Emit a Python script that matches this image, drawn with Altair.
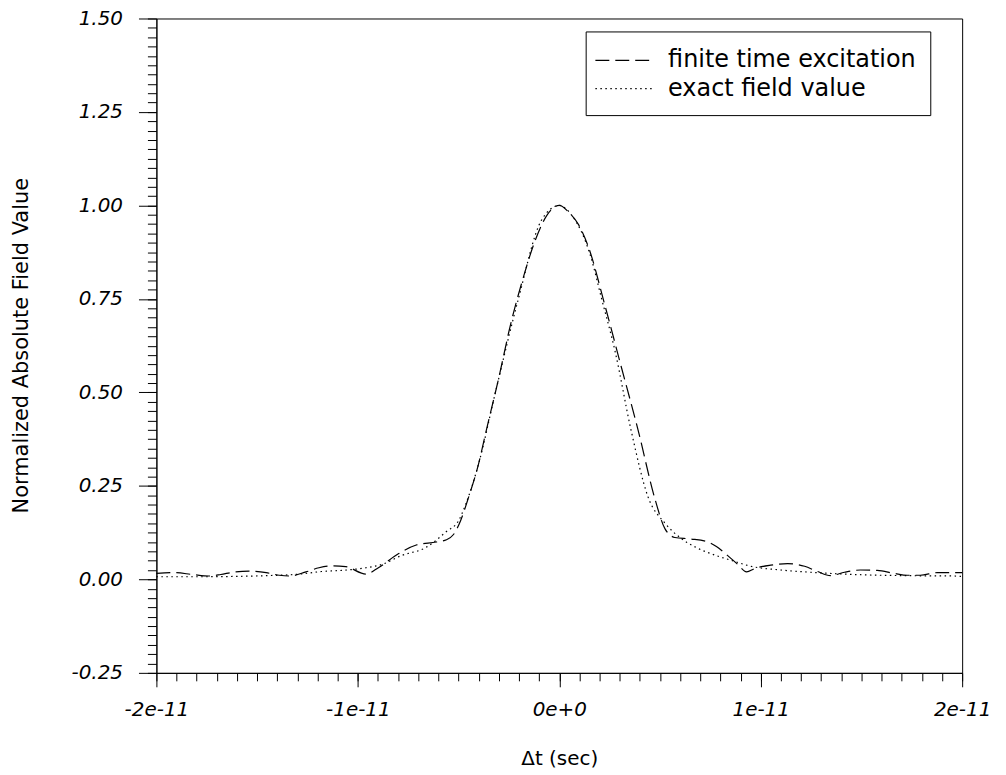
import altair as alt
import pandas as pd

# time offsets in picoseconds (converted to seconds below)
finite_t = [-20.0, -19.1, -18.2, -17.4, -16.8, -16.2, -15.4, -14.55, -13.9, -13.4, -12.57, -11.93,
            -11.29, -10.6, -9.6, -8.96, -7.97, -7.1, -6.1, -5.6, -5.25, -4.9, -4.5, -4.0, -3.66,
            -3.02, -2.38, -1.88, -1.19, -0.6, 0.0, 0.5, 0.94, 1.44, 2.28, 3.07, 3.91, 4.75, 5.25,
            5.74, 6.53, 7.38, 7.8, 8.22, 8.86, 9.3, 9.7, 10.5, 11.34, 12.18, 12.82, 13.47, 14.16,
            14.95, 15.79, 16.63, 17.28, 17.92, 18.76, 19.75, 20.0]
finite_v = [0.016, 0.018, 0.013, 0.009, 0.013, 0.019, 0.022, 0.018, 0.011, 0.009, 0.020, 0.031,
            0.036, 0.034, 0.014, 0.032, 0.069, 0.092, 0.100, 0.106, 0.120, 0.157, 0.22, 0.31, 0.39,
            0.535, 0.69, 0.79, 0.907, 0.975, 1.000, 0.98, 0.95, 0.89, 0.73, 0.57, 0.40, 0.215, 0.135,
            0.112, 0.108, 0.100, 0.088, 0.070, 0.040, 0.020, 0.029, 0.038, 0.042, 0.035, 0.021, 0.010,
            0.019, 0.025, 0.024, 0.016, 0.011, 0.011, 0.018, 0.018, 0.018]

exact_t = [-20.0, -18.0, -16.0, -14.5, -12.9, -11.8, -10.8, -9.6, -8.8, -7.82, -6.63, -5.6, -5.0,
           -4.65, -4.0, -3.17, -2.03, -0.89, 0.0, 0.6, 1.58, 2.08, 2.77, 3.56, 4.41, 5.25, 6.04,
           6.8, 7.72, 8.71, 9.36, 11.0, 12.2, 14.65, 17.1, 19.6, 20.0]
exact_v = [0.007, 0.007, 0.008, 0.010, 0.014, 0.021, 0.024, 0.031, 0.040, 0.064, 0.085, 0.128, 0.157,
           0.20, 0.31, 0.50, 0.75, 0.96, 1.000, 0.975, 0.86, 0.755, 0.61, 0.40, 0.22, 0.150, 0.110,
           0.085, 0.065, 0.048, 0.037, 0.025, 0.020, 0.013, 0.010, 0.009, 0.008]

series_names = ["finite time excitation", "exact field value"]

x_major = [-2e-11, -1e-11, 0.0, 1e-11, 2e-11]
x_minor = [i * 1e-12 for i in range(-20, 21)]
y_major = [-0.25, 0.0, 0.25, 0.5, 0.75, 1.0, 1.25, 1.5]
y_minor = [round(-0.25 + i * 0.025, 3) for i in range(0, 71)]

rows = []
for t, v in zip(finite_t, finite_v):
    rows.append({"t": t * 1e-12, "v": v, "series": series_names[0]})
for t, v in zip(exact_t, exact_v):
    rows.append({"t": t * 1e-12, "v": v, "series": series_names[1]})
df = pd.DataFrame(rows)

FONT = "DejaVu Sans"
MINUS = "\u2212"
xscale = alt.Scale(domain=[-2e-11, 2e-11], nice=False, zero=False)
yscale = alt.Scale(domain=[-0.25, 1.5], nice=False, zero=False)

lines = alt.Chart(df).mark_line(color="black", strokeWidth=1.2, interpolate="monotone").encode(
    x=alt.X("t:Q", scale=xscale,
            axis=alt.Axis(orient="bottom", values=x_major,
                          labelExpr="replace(format(datum.value, '.0e'), '" + MINUS + "', '-')",
                          tickSize=14, labelPadding=13, labelFlush=False, labelOverlap=False,
                          title="Δt (sec)", titleY=76)),
    y=alt.Y("v:Q", scale=yscale,
            axis=alt.Axis(orient="left", values=y_major,
                          labelExpr="replace(format(datum.value, '.2f'), '" + MINUS + "', '-')",
                          tickSize=18, labelPadding=16, labelFlush=False, labelOverlap=False,
                          title="Normalized Absolute Field Value", titleX=-125, titleY=328,
                          titleFontSize=21)),
    strokeDash=alt.StrokeDash(
        "series:N",
        scale=alt.Scale(domain=series_names, range=[[14, 6], [1.5, 3.5]]),
        sort=series_names,
        legend=alt.Legend(orient="none", legendX=431, legendY=13, title=None,
                          symbolType="M-2,0H2", symbolSize=812, symbolOffset=9.25,
                          symbolStrokeWidth=1.2, symbolStrokeColor="black",
                          labelFontSize=24, labelFont=FONT, labelColor="black",
                          strokeColor="black", fillColor="white",
                          padding=14, rowPadding=1.5, labelOffset=29.5, labelLimit=400),
    ),
    detail="series:N",
)

minor = alt.Chart(df).mark_line(strokeOpacity=0).encode(
    x=alt.X("t:Q", scale=xscale,
            axis=alt.Axis(orient="bottom", values=x_minor, tickSize=8, labels=False,
                          domain=False, title=None)),
    y=alt.Y("v:Q", scale=yscale,
            axis=alt.Axis(orient="left", values=y_minor, tickSize=9, labels=False,
                          domain=False, title=None)),
    detail="series:N",
)

chart = alt.layer(lines, minor).resolve_axis(x="independent", y="independent").properties(
    width=809, height=657,
    autosize=alt.AutoSizeParams(type="none"),
    padding={"left": 149, "top": 9, "right": 36, "bottom": 95},
).configure_view(stroke="black", strokeWidth=1).configure_axis(
    domainColor="black", domainWidth=1, tickColor="black", tickWidth=1, grid=False,
    labelFont=FONT, labelFontStyle="italic", labelFontSize=20, labelColor="black",
    titleFont=FONT, titleFontSize=20, titleFontWeight="normal", titleColor="black",
)

chart.save("out.html", embed_options={"renderer": "svg", "actions": False})
